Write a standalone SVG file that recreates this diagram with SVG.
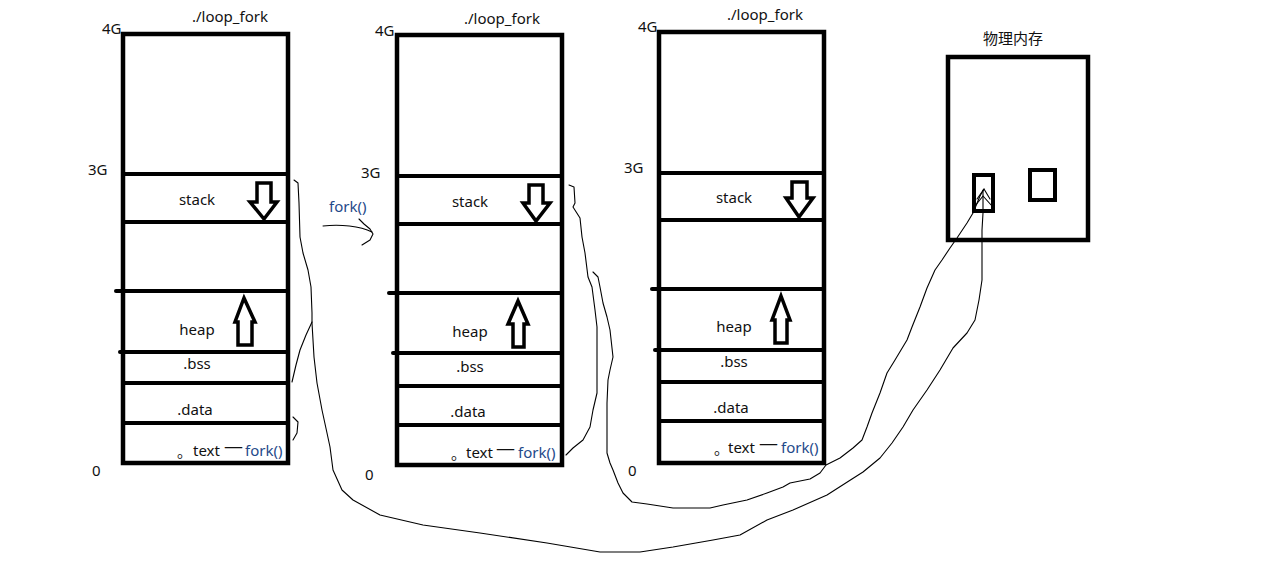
<svg xmlns="http://www.w3.org/2000/svg" width="1266" height="570" viewBox="0 0 1266 570">
<style>
.bg{fill:#fff}
.box{fill:none;stroke:#000;stroke-width:4.5}
.div{stroke:#000;stroke-width:4;stroke-linecap:round}
.arr{fill:#fff;stroke:#000;stroke-width:3.5;stroke-linejoin:miter}
.t{font-family:"Noto Sans","Noto Sans CJK SC",sans-serif;font-size:15px;fill:#111}
.c{text-anchor:middle}
.f{fill:#1f4a8a}
.cjk{font-family:"Noto Sans CJK SC",sans-serif;font-size:15px;fill:#111}
.ln{fill:none;stroke:#000;stroke-width:1.1;stroke-linejoin:round;stroke-linecap:round}
</style>
<rect class="bg" x="0" y="0" width="1266" height="570"/>

<g id="process1">
  <text class="t" x="192" y="22">./loop_fork</text>
  <text class="t" x="102" y="34">4G</text>
  <text class="t" x="88" y="175">3G</text>
  <text class="t" x="92" y="476">0</text>
  <rect class="box" x="123" y="34" width="165" height="429"/>
  <line class="div" x1="123" y1="174" x2="288" y2="174"/>
  <line class="div" x1="123" y1="222" x2="288" y2="222"/>
  <line class="div" x1="116" y1="291" x2="288" y2="291"/>
  <line class="div" x1="120" y1="352" x2="288" y2="352"/>
  <line class="div" x1="123" y1="383" x2="288" y2="383"/>
  <line class="div" x1="123" y1="423" x2="288" y2="423"/>
  <polygon class="arr" points="257,183 271,183 271,202 277,202 264,219 250,202 257,202"/>
  <polygon class="arr" points="244,298 255,322 252,322 252,345 238,345 238,322 235,322"/>
  <text class="t c" x="197" y="205">stack</text>
  <text class="t c" x="197" y="335">heap</text>
  <text class="t c" x="197" y="369">.bss</text>
  <text class="t c" x="195" y="415">.data</text>
  <text class="cjk" x="177" y="457">。</text>
  <text class="t" x="193" y="456">text</text>
  <text class="t" x="224" y="452" textLength="19" lengthAdjust="spacingAndGlyphs">—</text>
  <text class="t f" x="245" y="456">fork()</text>
</g>

<g id="process2">
  <text class="t" x="464" y="24">./loop_fork</text>
  <text class="t" x="375" y="36">4G</text>
  <text class="t" x="361" y="178">3G</text>
  <text class="t" x="365" y="480">0</text>
  <rect class="box" x="397" y="35" width="165" height="430"/>
  <line class="div" x1="397" y1="176" x2="562" y2="176"/>
  <line class="div" x1="397" y1="224" x2="562" y2="224"/>
  <line class="div" x1="389" y1="293" x2="562" y2="293"/>
  <line class="div" x1="393" y1="353" x2="562" y2="353"/>
  <line class="div" x1="397" y1="386" x2="562" y2="386"/>
  <line class="div" x1="397" y1="425" x2="562" y2="425"/>
  <polygon class="arr" points="529,185 543,185 543,203 550,203 536,221 523,203 529,203"/>
  <polygon class="arr" points="518,301 528,324 524,324 524,347 513,347 513,324 508,324"/>
  <text class="t c" x="470" y="207">stack</text>
  <text class="t c" x="470" y="337">heap</text>
  <text class="t c" x="470" y="372">.bss</text>
  <text class="t c" x="468" y="417">.data</text>
  <text class="cjk" x="451" y="459">。</text>
  <text class="t" x="466" y="458">text</text>
  <text class="t" x="496" y="454" textLength="19" lengthAdjust="spacingAndGlyphs">—</text>
  <text class="t f" x="518" y="458">fork()</text>
</g>

<g id="process3">
  <text class="t" x="727" y="20">./loop_fork</text>
  <text class="t" x="638" y="32">4G</text>
  <text class="t" x="624" y="173">3G</text>
  <text class="t" x="628" y="476">0</text>
  <rect class="box" x="659" y="32" width="165" height="431"/>
  <line class="div" x1="659" y1="173" x2="824" y2="173"/>
  <line class="div" x1="659" y1="220" x2="824" y2="220"/>
  <line class="div" x1="652" y1="289" x2="824" y2="289"/>
  <line class="div" x1="655" y1="350" x2="824" y2="350"/>
  <line class="div" x1="659" y1="382" x2="824" y2="382"/>
  <line class="div" x1="659" y1="421" x2="824" y2="421"/>
  <polygon class="arr" points="792,182 807,182 807,198 813,198 799,217 786,198 792,198"/>
  <polygon class="arr" points="781,296 790,320 787,320 787,343 775,343 775,320 772,320"/>
  <text class="t c" x="734" y="203">stack</text>
  <text class="t c" x="734" y="332">heap</text>
  <text class="t c" x="734" y="367">.bss</text>
  <text class="t c" x="731" y="413">.data</text>
  <text class="cjk" x="714" y="454">。</text>
  <text class="t" x="728" y="453">text</text>
  <text class="t" x="759" y="449" textLength="19" lengthAdjust="spacingAndGlyphs">—</text>
  <text class="t f" x="781" y="453">fork()</text>
</g>

<g id="physical-memory">
  <text class="cjk c" x="1013" y="44">物理内存</text>
  <rect class="box" x="948" y="57" width="140" height="183"/>
  <rect class="div" x="974" y="175" width="19" height="36" fill="none"/>
  <rect class="div" x="1030" y="170" width="25" height="30" fill="none"/>
</g>

<g id="connectors">
  <path class="ln" d="M294,180 L298,183 L299,203 L300,237 L303,253 L308,270 L311,287 L312,313 L312,323 L314,357 L317,383 L322,410 L327,433 L330,447 L333,470 L342,490 L353,500 L380,515 L423,525 L480,533 L547,543 L600,552 L640,552 L673,547 L713,540 L740,535 L767,520 L793,510 L827,495 L852,479 L863,472 L880,458 L892,443 L903,427 L913,410 L927,390 L940,370 L953,348 L967,333 L975,320 L979,300 L982,280 L982,253 L982,230 L983,213 L983,190"/>
  <path class="ln" d="M312,322 L306,335 L300,350 L296,365 L292,382"/>
  <path class="ln" d="M293,417 L298,422 L297,433 L293,440"/>
  <path class="ln" d="M569,185 L574,187 L575,203 L573,207 L580,218 L582,237 L585,253 L588,277 L592,287 L595,310 L597,327 L597,393 L593,410 L590,427 L583,440 L573,448 L566,455"/>
  <path class="ln" d="M593,272 L598,277 L600,287 L603,303 L607,317 L610,330 L613,357 L610,370 L608,380 L607,403 L607,453 L610,463 L613,470 L618,483 L623,493 L632,502 L647,504 L673,508 L710,508 L723,505 L747,500 L767,493 L783,487 L790,483 L810,479 L820,473 L826,465 L840,458 L853,448 L862,440 L867,427 L872,413 L880,393 L887,373 L895,360 L907,340 L912,327 L920,307 L927,288 L935,270 L942,260 L950,248 L957,238 L967,223 L973,213 L980,196 L984,189"/>
  <polyline class="ln" points="977,199 984,189 990,199"/>
  <polyline class="ln" points="975,206 983,196 992,206"/>
  <path class="ln" d="M323,226 C340,224 360,226 372,232"/>
  <polyline class="ln" points="359,219 364,224 370,229 373,234 370,240 362,245"/>
  <text class="t f" x="329" y="212">fork()</text>
</g>
</svg>
